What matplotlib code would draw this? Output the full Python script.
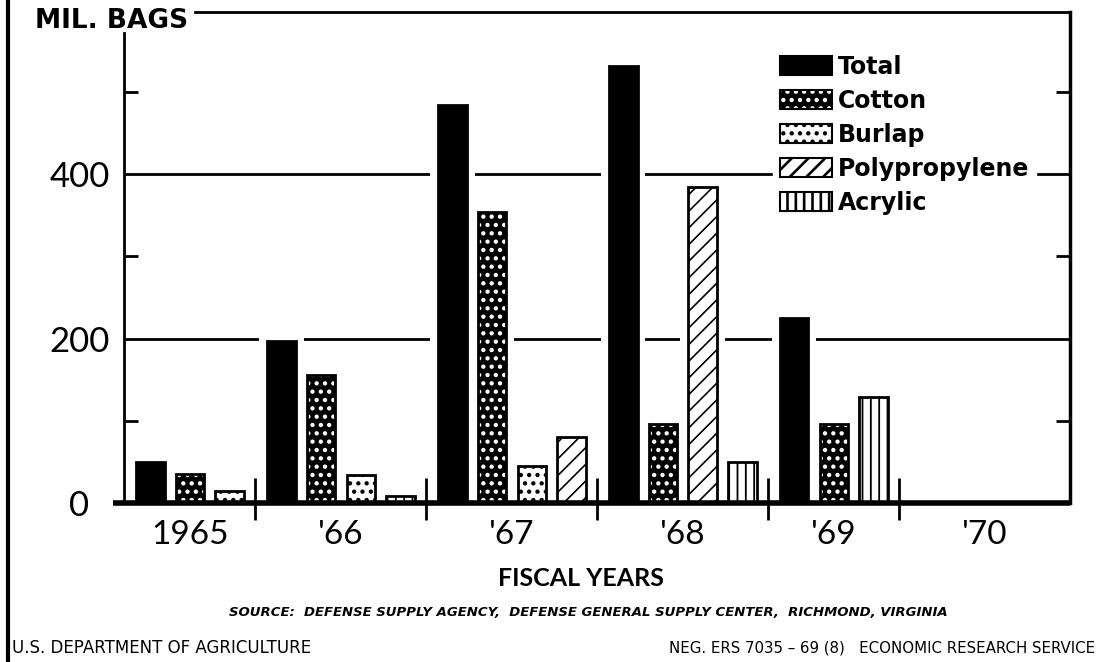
import matplotlib.pyplot as plt
from matplotlib.patches import Patch
from matplotlib.lines import Line2D

years = ["1965", "'66", "'67", "'68", "'69", "'70"]
total = [50, 197, 484, 531, 225, None]
cotton = [35, 156, 354, 96, 96, None]
burlap = [15, 34, 45, None, None, None]
polypropylene = [None, None, 80, 384, None, None]
acrylic = [None, 9, None, 50, 129, None]
yticks = [0, 200, 400]
yminor = [100, 300, 500]

source = "SOURCE:  DEFENSE SUPPLY AGENCY,  DEFENSE GENERAL SUPPLY CENTER,  RICHMOND, VIRGINIA"

plt.rcParams['font.family'] = ['Lato', 'DejaVu Sans']
plt.rcParams['hatch.linewidth'] = 1.9
wide = ['DejaVu Sans']

series = [("Total", total), ("Cotton", cotton), ("Burlap", burlap),
          ("Polypropylene", polypropylene), ("Acrylic", acrylic)]
styles = {
    "Total": dict(facecolor='black', edgecolor='black'),
    "Cotton": dict(facecolor='black', edgecolor='white', hatch='..'),
    "Burlap": dict(facecolor='white', edgecolor='black', hatch='..'),
    "Polypropylene": dict(facecolor='white', edgecolor='black', hatch='//'),
    "Acrylic": dict(facecolor='white', edgecolor='black', hatch='||'),
}
# thinner hatch for the line patterns, thicker strokes make the dots bigger
hatch_lw = {"Polypropylene": 1.2, "Acrylic": 1.3}


def thin(patch, name):
    if name in hatch_lw and hasattr(patch, 'set_hatch_linewidth'):
        patch.set_hatch_linewidth(hatch_lw[name])
    return patch


W, H = 1114, 662
fig = plt.figure(figsize=(W / 100, H / 100), dpi=100)
ax = fig.add_axes([124 / W, 1 - 503 / H, (1070 - 124) / W, (503 - 12) / H])
ymax = 491 / 0.8225

bw = 0.72
x0 = 0.0
centers = []
starts = []
for j, yr in enumerate(years):
    vals = [(name, s[j]) for name, s in series if s[j] is not None]
    nslots = len(vals) if vals else 4
    starts.append(x0)
    for i, (name, v) in enumerate(vals):
        x = x0 + 0.3 + i + bw / 2
        # white halo so the grid lines stop short of the bars
        ax.bar(x, v + 12, width=bw + 0.4, color='white', lw=0, zorder=1.5)
        if name == "Cotton":
            ax.bar(x, v, width=bw, lw=0, zorder=2, **styles[name])
            ax.bar(x, v, width=bw, fill=False, edgecolor='black', lw=2, zorder=2.1)
        else:
            bars = ax.bar(x, v, width=bw, lw=2, zorder=2, **styles[name])
            for p in bars:
                thin(p, name)
    centers.append(x0 + (nslots + 0.3) / 2)
    x0 += nslots + 0.3
xmax = x0

for y in yticks[1:]:
    ax.axhline(y, color='black', lw=2, zorder=1)

ax.vlines(starts[1:], -21, 30, color='black', lw=2, clip_on=False, zorder=3)
ax.plot([-0.28, xmax], [0, 0], color='black', lw=4, clip_on=False,
        solid_capstyle='butt', zorder=3)

ax.set_xlim(0, xmax)
ax.set_ylim(0, ymax)
ax.spines['bottom'].set_visible(False)
ax.spines['left'].set_linewidth(2)
ax.spines['left'].set_bounds(0, 571)
ax.spines['top'].set_linewidth(2)
ax.spines['top'].set_bounds(71 / 39.7, xmax)
ax.spines['right'].set_linewidth(2.5)

ax.set_yticks(yticks)
ax.set_yticks(yminor, minor=True)
ax.tick_params(axis='y', which='major', length=0, pad=32, labelsize=25)
ax.tick_params(axis='y', which='minor', direction='in', length=10, width=2,
               left=True, right=True)
for t in ax.get_yticklabels():
    t.set_ha('center')
ax.set_xticks(centers, years)
ax.tick_params(axis='x', length=0, pad=12, labelsize=24)

handles, labels = [], []
for name, s in series:
    if name == "Cotton":
        handles.append((Patch(lw=0, **styles[name]),
                        Patch(fill=False, edgecolor='black', lw=1.5)))
    else:
        handles.append(thin(Patch(lw=1.5, **styles[name]), name))
    labels.append(name)
ax.legend(handles, labels, loc='upper left', bbox_to_anchor=(773 / W, 1 - 48 / H),
          bbox_transform=fig.transFigure,
          prop=dict(family=wide, weight='bold', size=17),
          handlelength=2.2, handleheight=0.85, handletextpad=0.25,
          labelspacing=0.42, borderpad=0.3, borderaxespad=0, fancybox=False,
          edgecolor='white', facecolor='white', framealpha=1)

fig.text(35 / W, 1 - 21 / H, "MIL. BAGS", family=wide, weight='bold', size=19,
         ha='left', va='center')
fig.text(581 / W, 1 - 578 / H, "FISCAL YEARS", weight='bold', size=18, ha='center', va='center')
fig.text(588 / W, 1 - 612 / H, source, family=wide, weight='bold', style='italic', size=9.5,
         ha='center', va='center')
fig.text(12 / W, 1 - 648 / H, "U.S. DEPARTMENT OF AGRICULTURE", family=wide, size=12,
         ha='left', va='center')
fig.text(1095 / W, 1 - 648 / H, "NEG. ERS 7035 \u2013 69 (8)   ECONOMIC RESEARCH SERVICE",
         family=wide, size=10.8, ha='right', va='center')
fig.add_artist(Line2D([8 / W, 8 / W], [0, 1], transform=fig.transFigure, color='black', lw=3))

fig.savefig("out.png", dpi=100)
